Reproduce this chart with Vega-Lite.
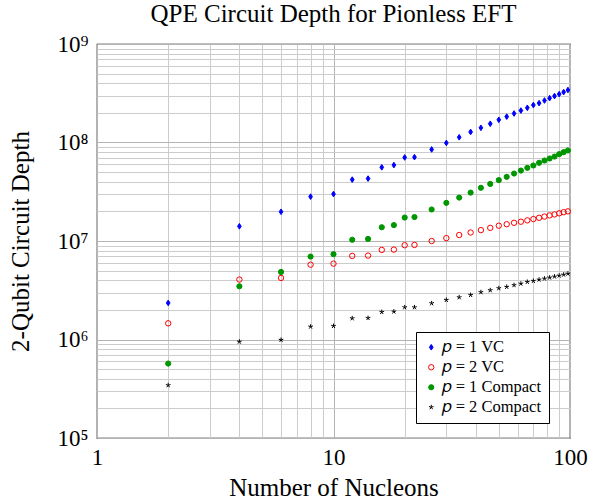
{
  "$schema": "https://vega.github.io/schema/vega-lite/v6.json",
  "autosize": {"type": "none"},
  "padding": {"left": 97, "top": 44, "right": 22, "bottom": 65},
  "width": 473,
  "height": 394,
  "background": "white",
  "title": {"text": "QPE Circuit Depth for Pionless EFT", "font": "Liberation Serif", "fontSize": 25, "fontWeight": "normal", "color": "black", "anchor": "middle", "offset": 6},
  "config": {
    "view": {"stroke": "black", "strokeWidth": 1.2},
    "axis": {"labelFont": "Liberation Serif", "titleFont": "Liberation Serif", "labelColor": "black", "titleColor": "black", "titleFontWeight": "normal", "labelFontSize": 23, "titleFontSize": 25, "ticks": false, "domain": false, "labelOverlap": false, "labelFlush": false},
    "legend": {"labelFont": "Liberation Serif", "labelFontSize": 16.5, "labelColor": "black"}
  },
  "data": {"values": [
    {"n": 2, "s": "𝑝 = 1 VC", "d": 2350000},
    {"n": 4, "s": "𝑝 = 1 VC", "d": 14100000},
    {"n": 6, "s": "𝑝 = 1 VC", "d": 19800000},
    {"n": 8, "s": "𝑝 = 1 VC", "d": 28200000},
    {"n": 10, "s": "𝑝 = 1 VC", "d": 30000000},
    {"n": 12, "s": "𝑝 = 1 VC", "d": 42000000},
    {"n": 14, "s": "𝑝 = 1 VC", "d": 43000000},
    {"n": 16, "s": "𝑝 = 1 VC", "d": 56000000},
    {"n": 18, "s": "𝑝 = 1 VC", "d": 59000000},
    {"n": 20, "s": "𝑝 = 1 VC", "d": 70500000},
    {"n": 22, "s": "𝑝 = 1 VC", "d": 71000000},
    {"n": 26, "s": "𝑝 = 1 VC", "d": 85000000},
    {"n": 30, "s": "𝑝 = 1 VC", "d": 99000000},
    {"n": 34, "s": "𝑝 = 1 VC", "d": 113000000},
    {"n": 38, "s": "𝑝 = 1 VC", "d": 128000000},
    {"n": 42, "s": "𝑝 = 1 VC", "d": 141000000},
    {"n": 46, "s": "𝑝 = 1 VC", "d": 155000000},
    {"n": 50, "s": "𝑝 = 1 VC", "d": 170000000},
    {"n": 54, "s": "𝑝 = 1 VC", "d": 183000000},
    {"n": 58, "s": "𝑝 = 1 VC", "d": 197000000},
    {"n": 62, "s": "𝑝 = 1 VC", "d": 211000000},
    {"n": 66, "s": "𝑝 = 1 VC", "d": 225000000},
    {"n": 70, "s": "𝑝 = 1 VC", "d": 240000000},
    {"n": 74, "s": "𝑝 = 1 VC", "d": 251000000},
    {"n": 78, "s": "𝑝 = 1 VC", "d": 267000000},
    {"n": 82, "s": "𝑝 = 1 VC", "d": 282000000},
    {"n": 86, "s": "𝑝 = 1 VC", "d": 296000000},
    {"n": 90, "s": "𝑝 = 1 VC", "d": 310000000},
    {"n": 94, "s": "𝑝 = 1 VC", "d": 325000000},
    {"n": 98, "s": "𝑝 = 1 VC", "d": 341000000},
    {"n": 2, "s": "𝑝 = 2 VC", "d": 1460000},
    {"n": 4, "s": "𝑝 = 2 VC", "d": 4060000},
    {"n": 6, "s": "𝑝 = 2 VC", "d": 4220000},
    {"n": 8, "s": "𝑝 = 2 VC", "d": 5750000},
    {"n": 10, "s": "𝑝 = 2 VC", "d": 5890000},
    {"n": 12, "s": "𝑝 = 2 VC", "d": 7060000},
    {"n": 14, "s": "𝑝 = 2 VC", "d": 7110000},
    {"n": 16, "s": "𝑝 = 2 VC", "d": 8120000},
    {"n": 18, "s": "𝑝 = 2 VC", "d": 8180000},
    {"n": 20, "s": "𝑝 = 2 VC", "d": 9060000},
    {"n": 22, "s": "𝑝 = 2 VC", "d": 9120000},
    {"n": 26, "s": "𝑝 = 2 VC", "d": 10000000},
    {"n": 30, "s": "𝑝 = 2 VC", "d": 10700000},
    {"n": 34, "s": "𝑝 = 2 VC", "d": 11500000},
    {"n": 38, "s": "𝑝 = 2 VC", "d": 12200000},
    {"n": 42, "s": "𝑝 = 2 VC", "d": 12900000},
    {"n": 46, "s": "𝑝 = 2 VC", "d": 13600000},
    {"n": 50, "s": "𝑝 = 2 VC", "d": 14300000},
    {"n": 54, "s": "𝑝 = 2 VC", "d": 14800000},
    {"n": 58, "s": "𝑝 = 2 VC", "d": 15300000},
    {"n": 62, "s": "𝑝 = 2 VC", "d": 15700000},
    {"n": 66, "s": "𝑝 = 2 VC", "d": 16200000},
    {"n": 70, "s": "𝑝 = 2 VC", "d": 16700000},
    {"n": 74, "s": "𝑝 = 2 VC", "d": 17200000},
    {"n": 78, "s": "𝑝 = 2 VC", "d": 17700000},
    {"n": 82, "s": "𝑝 = 2 VC", "d": 18200000},
    {"n": 86, "s": "𝑝 = 2 VC", "d": 18600000},
    {"n": 90, "s": "𝑝 = 2 VC", "d": 19100000},
    {"n": 94, "s": "𝑝 = 2 VC", "d": 19600000},
    {"n": 98, "s": "𝑝 = 2 VC", "d": 20000000},
    {"n": 2, "s": "𝑝 = 1 Compact", "d": 570000},
    {"n": 4, "s": "𝑝 = 1 Compact", "d": 3470000},
    {"n": 6, "s": "𝑝 = 1 Compact", "d": 4850000},
    {"n": 8, "s": "𝑝 = 1 Compact", "d": 6950000},
    {"n": 10, "s": "𝑝 = 1 Compact", "d": 7350000},
    {"n": 12, "s": "𝑝 = 1 Compact", "d": 10300000},
    {"n": 14, "s": "𝑝 = 1 Compact", "d": 10500000},
    {"n": 16, "s": "𝑝 = 1 Compact", "d": 13800000},
    {"n": 18, "s": "𝑝 = 1 Compact", "d": 14500000},
    {"n": 20, "s": "𝑝 = 1 Compact", "d": 17300000},
    {"n": 22, "s": "𝑝 = 1 Compact", "d": 17500000},
    {"n": 26, "s": "𝑝 = 1 Compact", "d": 20900000},
    {"n": 30, "s": "𝑝 = 1 Compact", "d": 24400000},
    {"n": 34, "s": "𝑝 = 1 Compact", "d": 27600000},
    {"n": 38, "s": "𝑝 = 1 Compact", "d": 31000000},
    {"n": 42, "s": "𝑝 = 1 Compact", "d": 34700000},
    {"n": 46, "s": "𝑝 = 1 Compact", "d": 38000000},
    {"n": 50, "s": "𝑝 = 1 Compact", "d": 41500000},
    {"n": 54, "s": "𝑝 = 1 Compact", "d": 44800000},
    {"n": 58, "s": "𝑝 = 1 Compact", "d": 48400000},
    {"n": 62, "s": "𝑝 = 1 Compact", "d": 51900000},
    {"n": 66, "s": "𝑝 = 1 Compact", "d": 55300000},
    {"n": 70, "s": "𝑝 = 1 Compact", "d": 58400000},
    {"n": 74, "s": "𝑝 = 1 Compact", "d": 62200000},
    {"n": 78, "s": "𝑝 = 1 Compact", "d": 65600000},
    {"n": 82, "s": "𝑝 = 1 Compact", "d": 68800000},
    {"n": 86, "s": "𝑝 = 1 Compact", "d": 72000000},
    {"n": 90, "s": "𝑝 = 1 Compact", "d": 76200000},
    {"n": 94, "s": "𝑝 = 1 Compact", "d": 79800000},
    {"n": 98, "s": "𝑝 = 1 Compact", "d": 83000000},
    {"n": 2, "s": "𝑝 = 2 Compact", "d": 343000},
    {"n": 4, "s": "𝑝 = 2 Compact", "d": 950000},
    {"n": 6, "s": "𝑝 = 2 Compact", "d": 990000},
    {"n": 8, "s": "𝑝 = 2 Compact", "d": 1350000},
    {"n": 10, "s": "𝑝 = 2 Compact", "d": 1370000},
    {"n": 12, "s": "𝑝 = 2 Compact", "d": 1640000},
    {"n": 14, "s": "𝑝 = 2 Compact", "d": 1650000},
    {"n": 16, "s": "𝑝 = 2 Compact", "d": 1900000},
    {"n": 18, "s": "𝑝 = 2 Compact", "d": 1920000},
    {"n": 20, "s": "𝑝 = 2 Compact", "d": 2120000},
    {"n": 22, "s": "𝑝 = 2 Compact", "d": 2120000},
    {"n": 26, "s": "𝑝 = 2 Compact", "d": 2330000},
    {"n": 30, "s": "𝑝 = 2 Compact", "d": 2520000},
    {"n": 34, "s": "𝑝 = 2 Compact", "d": 2680000},
    {"n": 38, "s": "𝑝 = 2 Compact", "d": 2830000},
    {"n": 42, "s": "𝑝 = 2 Compact", "d": 3020000},
    {"n": 46, "s": "𝑝 = 2 Compact", "d": 3160000},
    {"n": 50, "s": "𝑝 = 2 Compact", "d": 3310000},
    {"n": 54, "s": "𝑝 = 2 Compact", "d": 3420000},
    {"n": 58, "s": "𝑝 = 2 Compact", "d": 3560000},
    {"n": 62, "s": "𝑝 = 2 Compact", "d": 3690000},
    {"n": 66, "s": "𝑝 = 2 Compact", "d": 3840000},
    {"n": 70, "s": "𝑝 = 2 Compact", "d": 3930000},
    {"n": 74, "s": "𝑝 = 2 Compact", "d": 4050000},
    {"n": 78, "s": "𝑝 = 2 Compact", "d": 4150000},
    {"n": 82, "s": "𝑝 = 2 Compact", "d": 4250000},
    {"n": 86, "s": "𝑝 = 2 Compact", "d": 4350000},
    {"n": 90, "s": "𝑝 = 2 Compact", "d": 4450000},
    {"n": 94, "s": "𝑝 = 2 Compact", "d": 4550000},
    {"n": 98, "s": "𝑝 = 2 Compact", "d": 4660000}
  ]},
  "mark": {"type": "point", "strokeWidth": 1, "opacity": 1},
  "encoding": {
    "x": {
      "field": "n", "type": "quantitative",
      "scale": {"type": "log", "domain": [1, 100], "nice": false},
      "axis": {
        "title": "Number of Nucleons",
        "titlePadding": 6,
        "labelPadding": 8,
        "values": [1, 2, 3, 4, 5, 6, 7, 8, 9, 10, 20, 30, 40, 50, 60, 70, 80, 90, 100],
        "labelExpr": "datum.value == 1 ? '1' : datum.value == 10 ? '10' : datum.value == 100 ? '100' : ''",
        "gridColor": {"condition": {"test": "datum.value == 1 || datum.value == 10 || datum.value == 100", "value": "#b4b4b4"}, "value": "#cccccc"},
        "gridWidth": 1
      }
    },
    "y": {
      "field": "d", "type": "quantitative",
      "scale": {"type": "log", "domain": [100000, 1000000000], "nice": false},
      "axis": {
        "title": "2-Qubit Circuit Depth",
        "titlePadding": 23,
        "labelPadding": 9,
        "values": [100000, 200000, 300000, 400000, 500000, 600000, 700000, 800000, 900000, 1000000, 2000000, 3000000, 4000000, 5000000, 6000000, 7000000, 8000000, 9000000, 10000000, 20000000, 30000000, 40000000, 50000000, 60000000, 70000000, 80000000, 90000000, 100000000, 200000000, 300000000, 400000000, 500000000, 600000000, 700000000, 800000000, 900000000, 1000000000],
        "labelExpr": "datum.value == 100000 ? '10⁵' : datum.value == 1000000 ? '10⁶' : datum.value == 10000000 ? '10⁷' : datum.value == 100000000 ? '10⁸' : datum.value == 1000000000 ? '10⁹' : ''",
        "gridColor": {"condition": {"test": "datum.value == 100000 || datum.value == 1000000 || datum.value == 10000000 || datum.value == 100000000 || datum.value == 1000000000", "value": "#b4b4b4"}, "value": "#cccccc"},
        "gridWidth": 1
      }
    },
    "shape": {
      "field": "s", "type": "nominal",
      "scale": {"domain": ["𝑝 = 1 VC", "𝑝 = 2 VC", "𝑝 = 1 Compact", "𝑝 = 2 Compact"],
                "range": ["M0,-1L0.65,0L0,1L-0.65,0Z", "circle", "circle", "M0,0L0,-1M0,0L0.951,-0.309M0,0L0.588,0.809M0,0L-0.588,0.809M0,0L-0.951,-0.309"]},
      "legend": {"title": null, "orient": "none", "legendX": 319, "legendY": 288, "strokeColor": "black", "fillColor": "white", "padding": 7, "rowPadding": 3, "symbolOffset": 0, "labelOffset": 2, "cornerRadius": 0, "symbolStrokeWidth": 1}
    },
    "fill": {
      "field": "s", "type": "nominal",
      "scale": {"domain": ["𝑝 = 1 VC", "𝑝 = 2 VC", "𝑝 = 1 Compact", "𝑝 = 2 Compact"],
                "range": ["#0000ff", "transparent", "#009600", "black"]},
      "legend": {"title": null, "orient": "none", "legendX": 319, "legendY": 288}
    },
    "stroke": {
      "field": "s", "type": "nominal",
      "scale": {"domain": ["𝑝 = 1 VC", "𝑝 = 2 VC", "𝑝 = 1 Compact", "𝑝 = 2 Compact"],
                "range": ["#0000ff", "#ff0000", "#009600", "black"]},
      "legend": {"title": null, "orient": "none", "legendX": 319, "legendY": 288}
    },
    "size": {
      "field": "s", "type": "nominal",
      "scale": {"domain": ["𝑝 = 1 VC", "𝑝 = 2 VC", "𝑝 = 1 Compact", "𝑝 = 2 Compact"],
                "range": [32, 24, 34, 22]},
      "legend": {"title": null, "orient": "none", "legendX": 319, "legendY": 288}
    }
  }
}
